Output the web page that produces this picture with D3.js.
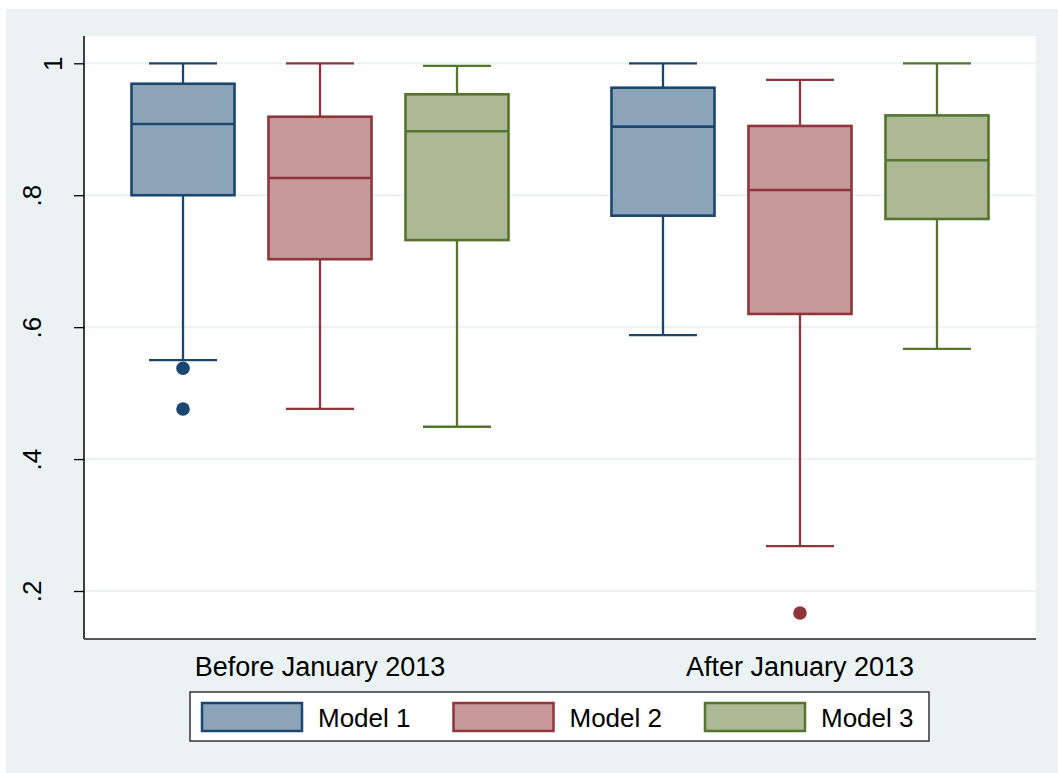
<!DOCTYPE html>
<html><head><meta charset="utf-8">
<script src="https://cdn.jsdelivr.net/npm/d3@7"></script>
<style>body{margin:0;background:#fff}svg{display:block}text{font-family:"Liberation Sans",Arial,sans-serif}</style>
</head><body><svg id="c" width="1058" height="773"></svg>
<script>
const groups = ["Before January 2013", "After January 2013"];
const models = ["Model 1", "Model 2", "Model 3"];
const yTicks = [0.2, 0.4, 0.6, 0.8, 1];
const yTickLabels = [".2", ".4", ".6", ".8", "1"];
// per group, per model: [lowerWhisker, q1, median, q3, upperWhisker]
const beforeStats = [
  [0.550, 0.800, 0.908, 0.969, 1.000],
  [0.476, 0.703, 0.826, 0.919, 1.000],
  [0.449, 0.732, 0.897, 0.953, 0.996]
];
const afterStats = [
  [0.588, 0.769, 0.904, 0.963, 1.000],
  [0.268, 0.620, 0.808, 0.905, 0.975],
  [0.567, 0.764, 0.853, 0.921, 1.000]
];
const beforeOutliers = [[0.5376, 0.476], [], []];
const afterOutliers = [[], [0.1666], []];

const strokeCols = ["#1a476f", "#90353b", "#55752f"];
const fillCols = ["#8da3b8", "#c8999b", "#abb994"];

const statsByGroup = [beforeStats, afterStats];
const outByGroup = [beforeOutliers, afterOutliers];

const svg = d3.select("#c");
const L = 84, R = 1036, T = 36, B = 639;
svg.append("rect").attr("x", 6).attr("y", 9).attr("width", 1052).attr("height", 764).attr("fill", "#eaf2f3");
svg.append("rect").attr("x", L).attr("y", T).attr("width", R - L).attr("height", B - T).attr("fill", "#fff");

const y = d3.scaleLinear().domain([0.2, 1]).range([591, 63.3]);
const x0 = d3.scalePoint().domain(groups).range([L, R]).padding(0.4917);
const x1 = d3.scaleBand().domain(models).range([-205.5, 205.5]).paddingInner(0.248).paddingOuter(0.124);

// gridlines
svg.append("g").selectAll("line").data(yTicks).join("line")
  .attr("x1", L).attr("x2", R).attr("y1", d => y(d)).attr("y2", d => y(d))
  .attr("stroke", "#eaf2f3").attr("stroke-width", 2);

// y axis
const yAxis = svg.append("g").attr("transform", `translate(${L},0)`)
  .call(d3.axisLeft(y).tickValues(yTicks).tickSize(10).tickPadding(12)
    .tickFormat((d, i) => yTickLabels[i]));
yAxis.select(".domain").attr("d", `M0,${T}V${B}`).attr("stroke", "#000").attr("stroke-width", 1.5);
yAxis.selectAll(".tick line").attr("stroke", "#000").attr("stroke-width", 1.3);
yAxis.selectAll(".tick text")
  .attr("transform", "rotate(-90)")
  .attr("x", 0).attr("y", d => d === 1 ? -22 : -43).attr("dy", 0)
  .attr("text-anchor", "middle")
  .style("font-size", "26px").attr("fill", "#000");

// x axis line
svg.append("line").attr("x1", L).attr("x2", R).attr("y1", B).attr("y2", B)
  .attr("stroke", "#555").attr("stroke-width", 2);

// category labels
svg.append("g").selectAll("text").data(groups).join("text")
  .attr("x", d => x0(d)).attr("y", 676).attr("text-anchor", "middle")
  .style("font-size", "27px").attr("fill", "#000").text(d => d);

// boxes
const capW = 68;
groups.forEach((g, gi) => {
  models.forEach((m, mi) => {
    const s = statsByGroup[gi][mi];
    const cx = x0(g) + x1(m) + x1.bandwidth() / 2;
    const left = x0(g) + x1(m);
    const bw = x1.bandwidth();
    const gg = svg.append("g");
    const sc = strokeCols[mi];
    gg.append("line").attr("x1", cx).attr("x2", cx).attr("y1", y(s[0])).attr("y2", y(s[1])).attr("stroke", sc).attr("stroke-width", 2.3);
    gg.append("line").attr("x1", cx).attr("x2", cx).attr("y1", y(s[3])).attr("y2", y(s[4])).attr("stroke", sc).attr("stroke-width", 2.3);
    gg.append("line").attr("x1", cx - capW / 2).attr("x2", cx + capW / 2).attr("y1", y(s[0])).attr("y2", y(s[0])).attr("stroke", sc).attr("stroke-width", 2.3);
    gg.append("line").attr("x1", cx - capW / 2).attr("x2", cx + capW / 2).attr("y1", y(s[4])).attr("y2", y(s[4])).attr("stroke", sc).attr("stroke-width", 2.3);
    gg.append("rect").attr("x", left).attr("width", bw).attr("y", y(s[3])).attr("height", y(s[1]) - y(s[3]))
      .attr("fill", fillCols[mi]).attr("stroke", sc).attr("stroke-width", 2.6);
    gg.append("line").attr("x1", left).attr("x2", left + bw).attr("y1", y(s[2])).attr("y2", y(s[2])).attr("stroke", sc).attr("stroke-width", 2.6);
    gg.selectAll("circle").data(outByGroup[gi][mi]).join("circle")
      .attr("cx", cx).attr("cy", d => y(d)).attr("r", 6.8).attr("fill", sc);
  });
});

// legend
const lg = svg.append("g");
lg.append("rect").attr("x", 190).attr("y", 692).attr("width", 739).attr("height", 49)
  .attr("fill", "#fff").attr("stroke", "#333").attr("stroke-width", 1.5);
const lx = d3.scaleOrdinal().domain(models).range([202, 453.5, 705]);
models.forEach((m, i) => {
  lg.append("rect").attr("x", lx(m)).attr("y", 703).attr("width", 100).attr("height", 28)
    .attr("fill", fillCols[i]).attr("stroke", strokeCols[i]).attr("stroke-width", 2.5);
  lg.append("text").attr("x", lx(m) + 116).attr("y", 727).style("font-size", "26px").attr("fill", "#000").text(m);
});
</script></body></html>
